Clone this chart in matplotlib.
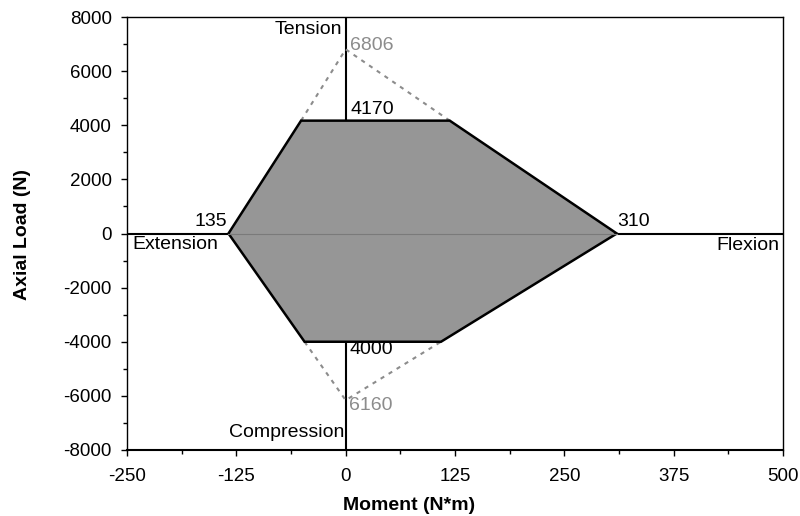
import matplotlib.pyplot as plt
from matplotlib.ticker import MultipleLocator

plt.rcParams["font.family"] = ["Liberation Sans", "DejaVu Sans"]
plt.rcParams["axes.unicode_minus"] = False

# envelope vertices (moment N*m, axial load N)
moment = [-134, -51, 119, 310, 109, -47]
load = [0, 4170, 4170, 0, -4000, -4000]

# dashed extrapolation to the pure tension / compression limits
tension_x = [-51, 0, 119]
tension_y = [4170, 6806, 4170]
compression_x = [-47, 0, 109]
compression_y = [-4000, -6160, -4000]

labels = [
    (-4, 7520, "Tension", "right", "black"),
    (5, 6940, "6806", "left", "#8c8c8c"),
    (5, 4590, "4170", "left", "black"),
    (-135, 440, "135", "right", "black"),
    (-244, -420, "Extension", "left", "black"),
    (311, 460, "310", "left", "black"),
    (496, -440, "Flexion", "right", "black"),
    (4, -4300, "4000", "left", "black"),
    (4, -6340, "6160", "left", "#8c8c8c"),
    (-2, -7370, "Compression", "right", "black"),
]

fig = plt.figure(figsize=(8, 5.16), dpi=100)
ax = fig.add_axes([127 / 800, 1 - 450 / 516, 656 / 800, 433 / 516])

ax.plot([-250, 500], [0, 0], color="black", lw=1.5, zorder=1)
ax.plot([0, 0], [-8000, 8000], color="black", lw=1.5, zorder=1)

ax.plot(tension_x, tension_y, color="#8c8c8c", lw=1.5, ls=(0, (2, 2.5)), zorder=1)
ax.plot(compression_x, compression_y, color="#8c8c8c", lw=1.5, ls=(0, (2, 2.5)), zorder=1)

ax.fill(moment, load, facecolor="#969696", edgecolor="black", lw=1.8, zorder=2)
ax.plot([moment[0], moment[3]], [0, 0], color="#7a7a7a", lw=0.8, zorder=3)

for x, y, s, ha, c in labels:
    ax.text(x, y, s, ha=ha, va="center", fontsize=14, color=c, zorder=4)

ax.set_xlim(-250, 500)
ax.set_ylim(-8000, 8000)
ax.xaxis.set_major_locator(MultipleLocator(125))
ax.xaxis.set_minor_locator(MultipleLocator(62.5))
ax.yaxis.set_major_locator(MultipleLocator(2000))
ax.yaxis.set_minor_locator(MultipleLocator(1000))
ax.tick_params(which="major", direction="out", length=4, width=1, labelsize=13.5)
ax.tick_params(axis="x", which="major", pad=9)
ax.tick_params(axis="y", which="major", pad=7)
ax.tick_params(which="minor", direction="out", length=3, width=1)
for sp in ax.spines.values():
    sp.set_linewidth(1)
ax.spines["bottom"].set_linewidth(1.5)

fig.text(409 / 800, 1 - 506 / 516, "Moment (N*m)", ha="center", va="center",
         fontsize=14, fontweight="bold")
fig.text(23 / 800, 1 - 235 / 516, "Axial Load (N)", ha="center", va="center",
         fontsize=14, fontweight="bold", rotation=90)

fig.savefig("out.png", dpi=100)
